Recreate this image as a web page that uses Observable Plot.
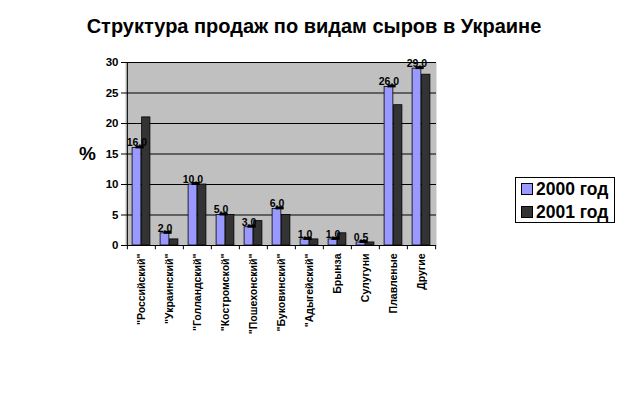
<!DOCTYPE html>
<html>
<head>
<meta charset="utf-8">
<script src="https://cdn.jsdelivr.net/npm/d3@7"></script>
<script src="https://cdn.jsdelivr.net/npm/@observablehq/plot@0.6"></script>
<style>
  body { margin: 0; background: #fff; font-family: "Liberation Sans", Arial, sans-serif; }
  #wrap { position: relative; width: 625px; height: 393px; overflow: hidden; }
  #title { position: absolute; left: 0; width: 628px; top: 15px; text-align: center; font-size: 20px; font-weight: bold; color: #000; }
  #pct { position: absolute; left: 79px; top: 143px; font-size: 19px; font-weight: bold; }
  #legend { position: absolute; left: 515px; top: 177px; width: 100px; height: 46px; border: 1px solid #000; background: #fff; box-sizing: border-box; }
  .item { position: absolute; left: 5px; font-size: 17.5px; font-weight: bold; line-height: 18px; white-space: nowrap; }
  .sw { display: inline-block; width: 10px; height: 10px; border: 1px solid #000; margin-right: 3px; vertical-align: 0px; }
  #chart { position: absolute; left: 0; top: 0; }
</style>
</head>
<body>
<div id="wrap">
  <div id="chart"></div>
  <div id="title">Структура продаж по видам сыров в Украине</div>
  <div id="pct">%</div>
  <div id="legend"></div>
</div>
<script>
const categories = ["\"Российский\"", "\"Украинский\"", "\"Голландский\"", "\"Костромской\"", "\"Пошехонский\"", "\"Буковинский\"", "\"Адыгейский\"", "Брынза", "Сулугуни", "Плавленые", "Другие"];
const values2000 = [16.0, 2.0, 10.0, 5.0, 3.0, 6.0, 1.0, 1.0, 0.5, 26.0, 29.0];
const values2001 = [21.0, 1.0, 10.0, 5.0, 4.0, 5.0, 1.0, 2.0, 0.5, 23.0, 28.0];
const seriesNames = ["2000 год", "2001 год"];
const seriesColors = ["#9999ff", "#333333"];
const yTicks = [0, 5, 10, 15, 20, 25, 30];

const d2000 = categories.map((c, i) => ({cat: c, v: values2000[i]}));
const d2001 = categories.map((c, i) => ({cat: c, v: values2001[i]}));

const W = 625, H = 393, mL = 125, mR = 189, mT = 62, mB = 148;
const bw = (W - mL - mR) / categories.length;
const font = "Liberation Sans, Arial, sans-serif";

const chart = Plot.plot({
  width: W, height: H,
  marginLeft: mL, marginRight: mR, marginTop: mT, marginBottom: mB,
  style: {fontFamily: font, color: "#000", background: "transparent", overflow: "visible"},
  x: {type: "band", domain: categories, padding: 0, axis: null},
  y: {domain: [0, 30], axis: null},
  marks: [
    Plot.frame({fill: "#c0c0c0", stroke: null}),
    Plot.ruleY(yTicks.filter(t => t > 0), {stroke: "#000", strokeWidth: 1}),
    Plot.barY(d2001, {x: "cat", y: "v", fill: seriesColors[1], stroke: "#000", strokeWidth: 0.8, insetLeft: bw * 0.5 + 0.5, insetRight: bw * 0.18}),
    Plot.barY(d2000, {x: "cat", y: "v", fill: seriesColors[0], stroke: "#000", strokeWidth: 0.8, insetLeft: bw * 0.18, insetRight: bw * 0.5}),
    Plot.tickY(d2000, {x: "cat", y: "v", stroke: "#000", strokeWidth: 3, dy: -1, insetLeft: bw * 0.3, insetRight: bw * 0.4}),
    Plot.text(d2000, {x: "cat", y: "v", text: d => d.v.toFixed(1), dx: -bw * 0.16, dy: -5, fontSize: 10.5, fontWeight: "bold", fill: "#000", textAnchor: "middle"}),
    Plot.ruleY([0], {stroke: "#000", strokeWidth: 1}),
    Plot.ruleX([0], {x: () => categories[0], dx: -bw / 2, y1: 0, y2: 30, stroke: "#000"}),
    Plot.axisY({ticks: yTicks, tickSize: 4, tickPadding: 3, fontSize: 11.5, fontWeight: "bold", label: null, tickFormat: d => String(d)}),
    Plot.ruleX(categories, {x: d => d, dx: -bw / 2, y1: 0, y2: -0.7, stroke: "#000"}),
    Plot.ruleX([categories[categories.length - 1]], {x: d => d, dx: bw / 2, y1: 0, y2: -0.7, stroke: "#000"}),
    Plot.text(categories, {x: d => d, y: 0, text: d => d, rotate: -90, textAnchor: "end", lineAnchor: "middle", dy: 8, fontSize: 10.5, fontWeight: "bold", fill: "#000"})
  ]
});
document.getElementById("chart").appendChild(chart);

const legend = document.getElementById("legend");
seriesNames.forEach((n, i) => {
  const it = document.createElement("div");
  it.className = "item";
  it.style.top = (i === 0 ? 2 : 25) + "px";
  it.innerHTML = `<span class="sw" style="background:${seriesColors[i]}"></span>${n}`;
  legend.appendChild(it);
});
</script>
</body>
</html>
